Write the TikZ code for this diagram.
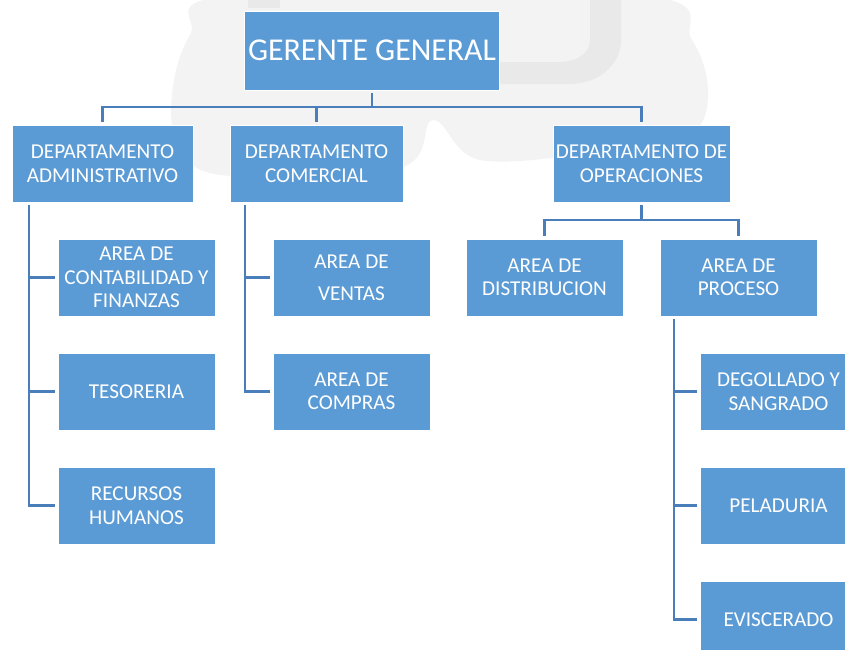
\documentclass[tikz,border=0pt]{standalone}
\usepackage{fontspec}
\setmainfont{Carlito}
\usetikzlibrary{positioning,calc}
\definecolor{azul}{HTML}{5B9BD5}
\definecolor{linea}{HTML}{4A7EBB}
\definecolor{marca}{HTML}{F3F3F3}
\definecolor{marcab}{HTML}{E9E9E9}
\tikzset{
caja/.style={draw=white,line width=0.8pt,fill=azul,text=white,align=center,inner sep=2pt,outer sep=0pt,minimum width=157pt,minimum height=77pt,font=\fontsize{21.2}{23.4}\selectfont},
jefe/.style={caja,minimum width=255pt,minimum height=79pt,font=\fontsize{31.8}{36}\selectfont},
enlace/.style={draw=linea,line width=2.6pt}
}
\pgfdeclarelayer{background}
\pgfsetlayers{background,main}

\begin{document}
\begin{tikzpicture}
\useasboundingbox (0,0) rectangle (845pt,-649pt);
\clip (0,0) rectangle (845pt,-649pt);
%%% gerencia y departamentos
\node[jefe] (ger) at (372pt,-50.5pt) {GERENTE GENERAL};
\node[caja,minimum width=181pt] (admin) at (102.5pt,-163.5pt) {DEPARTAMENTO\\ADMINISTRATIVO};
\node[caja,minimum width=173pt] (comer) at (316.5pt,-163.5pt) {DEPARTAMENTO\\COMERCIAL};
\node[caja,minimum width=177pt] (oper) at (641.5pt,-163.5pt) {DEPARTAMENTO DE\\OPERACIONES};
\draw[enlace,shorten <=3pt] (ger.south) -- ++(0,-17pt) coordinate (bus);
\foreach \d in {admin,comer,oper}
  \draw[enlace,shorten >=3pt] (bus) -| (\d.north);
%%% administrativo
\node[caja,below right=37pt and 46pt] (conta) at (admin.south west) {AREA DE\\CONTABILIDAD Y\\FINANZAS};
\node[caja,below=37pt of conta] (teso) {TESORERIA};
\node[caja,below=37pt of teso] (rrhh) {RECURSOS\\HUMANOS};
\coordinate (tadmin) at ([xshift=17pt]admin.south west);
\draw[enlace,shorten <=3pt,shorten >=3pt] (tadmin) |- (rrhh.west);
\foreach \n in {conta,teso}
  \draw[enlace,shorten <=3pt] (\n.west) -- (\n.west -| tadmin);
%%% comercial
\node[caja,below right=37pt and 43pt] (ventas) at (comer.south west) {AREA DE\\[9pt]VENTAS};
\node[caja,below=37pt of ventas] (compras) {AREA DE\\COMPRAS};
\coordinate (tcomer) at ([xshift=15pt]comer.south west);
\draw[enlace,shorten <=3pt,shorten >=3pt] (tcomer) |- (compras.west);
\draw[enlace,shorten <=3pt] (ventas.west) -- (ventas.west -| tcomer);
%%% operaciones
\node[caja,below left=37pt and 18.5pt] (distrib) at (oper.south) {AREA DE\\DISTRIBUCION};
\node[caja,below right=37pt and 18.5pt] (proceso) at (oper.south) {AREA DE\\PROCESO};
\draw[enlace,shorten <=3pt] (oper.south) -- ++(0,-18pt) coordinate (busop);
\foreach \a in {distrib,proceso}
  \draw[enlace,shorten >=3pt] (busop) -| (\a.north);
\node[caja,below right=37pt and 40pt] (degollado) at (proceso.south west) {DEGOLLADO Y\\SANGRADO};
\node[caja,below=37pt of degollado] (pelad) {PELADURIA};
\node[caja,below=37pt of pelad] (evisc) {EVISCERADO};
\coordinate (tproc) at ([xshift=14pt]proceso.south west);
\draw[enlace,shorten <=3pt,shorten >=3pt] (tproc) |- (evisc.west);
\foreach \n in {degollado,pelad}
  \draw[enlace,shorten <=3pt] (\n.west) -- (\n.west -| tproc);
%%% marca de agua
\begin{pgfonlayer}{background}
\fill[marca] plot[smooth cycle,tension=0.6] coordinates {(172pt,-95pt) (190pt,-35pt) (235pt,5pt) (640pt,5pt) (692pt,-40pt) (708pt,-95pt) (688pt,-135pt) (600pt,-152pt) (480pt,-160pt) (433pt,-120pt) (400pt,-168pt) (230pt,-176pt) (180pt,-150pt)};
\fill[marcab] (590pt,5pt) -- (590pt,-40pt) to[out=-90,in=0] (560pt,-62pt) -- (480pt,-62pt) -- (480pt,-84pt) -- (570pt,-84pt) to[out=0,in=-90] (621pt,-40pt) -- (621pt,5pt) -- cycle;
\fill[marcab] (248pt,5pt) rectangle (280pt,-8pt);
\end{pgfonlayer}
\end{tikzpicture}
\end{document}
